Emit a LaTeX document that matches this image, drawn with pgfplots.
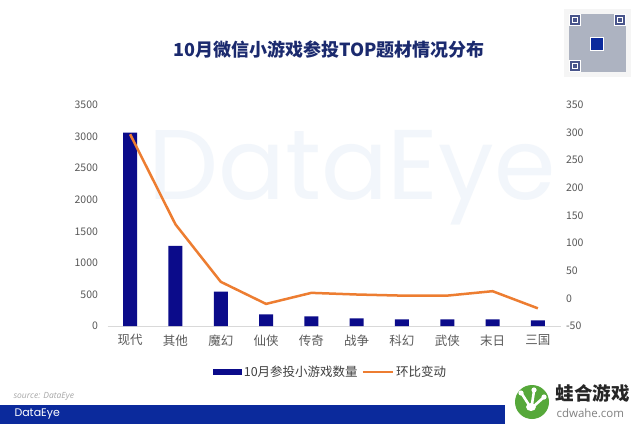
\documentclass[border=0pt]{standalone}
\usepackage{fontspec}
\setmainfont{Noto Sans CJK SC}
\newfontfamily\popfont{Poppins}
\newfontfamily\opensans{Open Sans}
\usepackage{pgfplots}
\pgfplotsset{compat=1.18}
\definecolor{barblue}{HTML}{0B0B8A}
\definecolor{lineorange}{HTML}{ED7D31}
\definecolor{titleblue}{HTML}{1B2A6E}
\definecolor{tickgray}{HTML}{595959}
\definecolor{bandblue}{HTML}{0B2A9C}
\definecolor{wm}{HTML}{F2F6FB}
\definecolor{frog}{HTML}{56A83A}
\definecolor{qrgray}{HTML}{8A92A6}
\begin{document}
\begin{tikzpicture}[x=1pt,y=1pt]
\path[fill=white,use as bounding box] (0pt,0pt) rectangle (640pt,424pt);
% watermark
\node[font=\popfont\fontsize{99}{99}\selectfont, text=wm, anchor=center] at (352pt,246pt) {DataEye};
% title
\node[font=\fontsize{18}{18}\selectfont\bfseries, text=titleblue] at (329pt,374pt) {10月微信小游戏参投TOP题材情况分布};
% bars
\begin{axis}[at={(107.5pt,98pt)}, anchor=south west, scale only axis,
  width=453pt, height=221pt,
  xmin=-0.5, xmax=9.5, ymin=0, ymax=3500,
  ytick={0,500,...,3500}, xtick={0,...,9},
  xticklabels={现代,其他,魔幻,仙侠,传奇,战争,科幻,武侠,末日,三国},
  axis x line*=bottom, axis y line*=left,
  y axis line style={draw=none}, x axis line style={draw=gray!30},
  major tick length=0pt,
  tick label style={text=tickgray},
  yticklabel style={font=\fontsize{10.5}{11}\selectfont, xshift=-6pt},
  xticklabel style={font=\fontsize{12.5}{13}\selectfont, yshift=-5pt},
  /pgf/number format/assume math mode=true,
  /pgf/number format/1000 sep={},
  scaled y ticks=false]
\addplot[ybar, bar width=14pt, fill=barblue, draw=none] coordinates {
 (0,3063) (1,1268) (2,544) (3,185) (4,153) (5,122) (6,106) (7,106) (8,106) (9,90)};
\end{axis}
% line
\begin{axis}[at={(107.5pt,98pt)}, anchor=south west, scale only axis,
  width=453pt, height=221pt,
  xmin=-0.5, xmax=9.5, ymin=-50, ymax=350,
  ytick={-50,0,...,350},
  axis x line=none, axis y line*=right,
  y axis line style={draw=none},
  major tick length=0pt,
  tick label style={text=tickgray},
  yticklabel style={font=\fontsize{10.5}{11}\selectfont, xshift=2pt},
  /pgf/number format/assume math mode=true,
  legend style={at={(0.493,-0.208)}, anchor=center, draw=none, fill=none,
    legend columns=2, font=\fontsize{12.5}{13}\selectfont, text=black!75,
    /tikz/every even column/.append style={column sep=2pt}},
  legend cell align=left]
\addlegendimage{legend image code/.code={\fill[barblue] (-4pt,-2.5pt) rectangle (24pt,2.5pt);}}
\addlegendentry{10月参投小游戏数量}
\addplot[lineorange, line width=2.5pt, line join=round,
  legend image code/.code={\draw[lineorange, line width=2.5pt] (-2pt,0pt) -- (28pt,0pt);}] coordinates {
 (0,297) (1,134) (2,30) (3,-10) (4,10) (5,7) (6,5) (7,5) (8,13) (9,-18)};
\addlegendentry{环比变动}
\end{axis}
% source and band
\node[anchor=west, font=\opensans\itshape\fontsize{8.5}{9}\selectfont, text=gray!70] at (10pt,28pt) {source: DataEye};
\fill[bandblue] (0pt,0pt) rectangle (505pt,19pt);
\node[anchor=west, font=\popfont\fontsize{11}{11}\selectfont, text=white] at (11pt,10pt) {DataEye};
% logo
\fill[frog] (532pt,22pt) circle (17pt);
\fill[white] (531pt,17pt) ellipse (5pt and 4pt);
\draw[white, line width=2.6pt, line cap=round] (529pt,19pt) -- (522pt,30pt);
\draw[white, line width=2.6pt, line cap=round] (532pt,20pt) -- (534pt,33pt);
\draw[white, line width=2.6pt, line cap=round] (534pt,18pt) -- (543pt,26pt);
\fill[white] (521pt,31pt) circle (2.6pt);
\fill[white] (534pt,34pt) circle (2.6pt);
\fill[white] (544pt,27pt) circle (2.6pt);
\node[anchor=west, font=\fontsize{18.5}{19}\selectfont\bfseries, text=black!85] at (552pt,31pt) {蛙合游戏};
\node[anchor=west, font=\opensans\fontsize{11.5}{12}\selectfont, text=gray] at (553pt,11pt) {cdwahe.com};
% QR code
\fill[gray!8] (564pt,347pt) rectangle (631pt,415pt);
\fill[qrgray!70] (569pt,352pt) rectangle (626pt,410pt);
\foreach \x/\y in {569/398, 614/398, 569/352}{
  \fill[white] (\x pt,\y pt) rectangle ++(12pt,12pt);
  \fill[titleblue!80] (\x pt+1pt,\y pt+1pt) rectangle ++(10pt,10pt);
  \fill[white] (\x pt+3pt,\y pt+3pt) rectangle ++(6pt,6pt);
  \fill[titleblue!80] (\x pt+4pt,\y pt+4pt) rectangle ++(4pt,4pt);
}
\fill[white] (590pt,373pt) rectangle (604pt,387pt);
\fill[bandblue] (591pt,374pt) rectangle (603pt,386pt);
\end{tikzpicture}
\end{document}
